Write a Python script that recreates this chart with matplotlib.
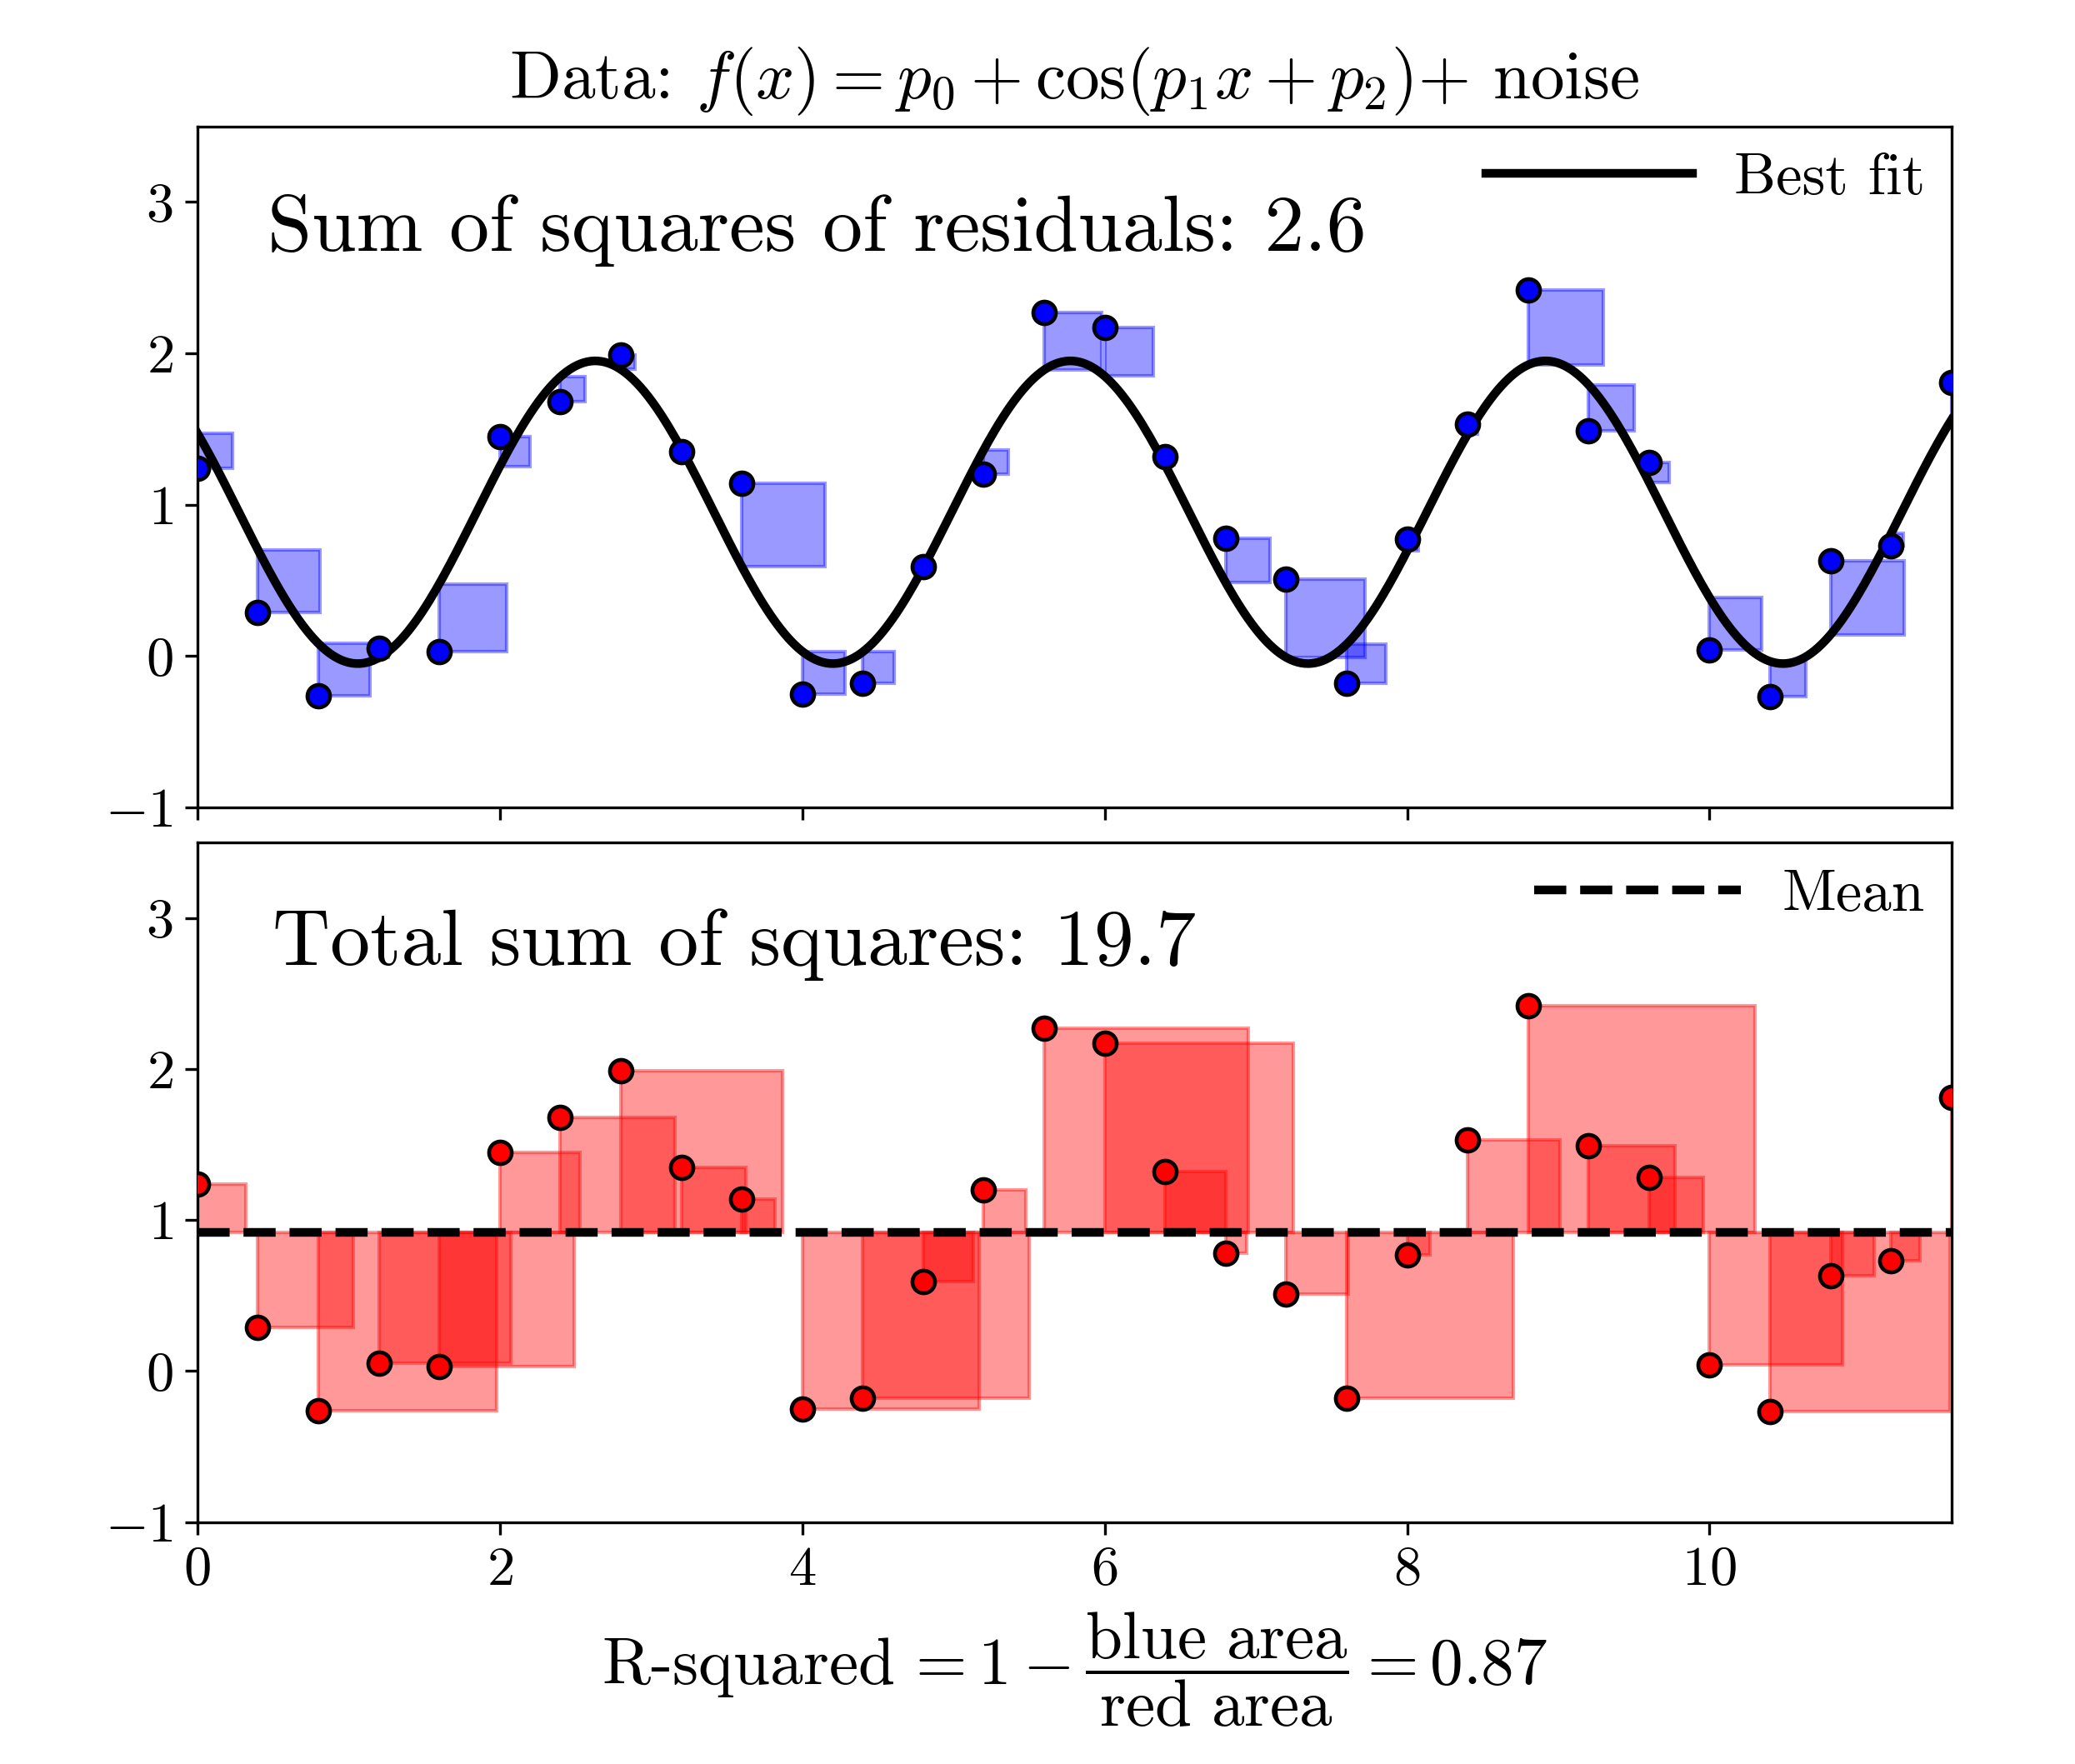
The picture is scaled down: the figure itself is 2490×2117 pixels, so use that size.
import numpy as np
import matplotlib
matplotlib.use('Agg')
import matplotlib.pyplot as plt
from matplotlib.patches import Rectangle

plt.rcParams['font.family'] = 'serif'
plt.rcParams['font.serif'] = ['cmr10']
plt.rcParams['mathtext.fontset'] = 'cm'
plt.rcParams['axes.formatter.use_mathtext'] = True

# data
x_data = [0.0, 0.4, 0.8, 1.2, 1.6, 2.0, 2.4, 2.8, 3.2, 3.6,
          4.0, 4.4, 4.8, 5.2, 5.6, 6.0, 6.4, 6.8, 7.2, 7.6,
          8.0, 8.4, 8.8, 9.2, 9.6, 10.0, 10.4, 10.8, 11.2, 11.6]
y_data = [1.24, 0.29, -0.26, 0.05, 0.03, 1.45, 1.68, 1.99, 1.35, 1.14,
          -0.25, -0.18, 0.59, 1.20, 2.27, 2.17, 1.32, 0.78, 0.51, -0.18,
          0.77, 1.53, 2.42, 1.49, 1.28, 0.04, -0.27, 0.63, 0.73, 1.81]
fit_params = [0.95, 2.0, 1.02]
ssr_label = "Sum of squares of residuals: 2.6"
sst_label = "Total sum of squares: 19.7"
r2_label = r"R-squared$\,= 1 - \dfrac{\mathrm{blue\ area}}{\mathrm{red\ area}} = 0.87$"


def model(x, p):
    return p[0] + np.cos(p[1] * x + p[2])


x = np.array(x_data)
y = np.array(y_data)
y_fit = model(x, fit_params)
y_mean = y.mean()

fig = plt.figure(figsize=(8.3, 7.0567), dpi=300)
ax1 = fig.add_axes([0.0951, 0.5423, 0.8454, 0.3861])
ax2 = fig.add_axes([0.0951, 0.1371, 0.8454, 0.3854], sharex=ax1)

# top: residual squares
for xi, yi, fi in zip(x, y, y_fit):
    side = abs(yi - fi)
    ax1.add_patch(Rectangle((xi, min(yi, fi)), side, side, facecolor='blue',
                            edgecolor='blue', alpha=0.4, lw=1.0, zorder=1))
xx = np.linspace(0, 11.6, 500)
ax1.plot(xx, model(xx, fit_params), color='black', lw=2.5, label='Best fit', zorder=2)
ax1.plot(x, y, 'o', color='blue', mec='black', mew=1.1, ms=6.5, zorder=3)
ax1.text(0.04, 0.817, ssr_label, transform=ax1.transAxes, fontsize=23, va='baseline')
ax1.legend(loc='upper right', frameon=False, fontsize=17, handlelength=3.5,
           handletextpad=0.7, borderaxespad=0.05)
ax1.set_title(r"Data: $f(x) = p_0 + \cos(p_1 x + p_2)$+ noise", fontsize=19.5, pad=8)
ax1.tick_params(labelbottom=False)

# bottom: total squares
for xi, yi in zip(x, y):
    side = abs(yi - y_mean)
    ax2.add_patch(Rectangle((xi, min(yi, y_mean)), side, side, facecolor='red',
                            edgecolor='red', alpha=0.4, lw=1.0, zorder=1))
ax2.axhline(y_mean, color='black', ls='--', lw=2.5, label='Mean', zorder=2)
ax2.plot(x, y, 'o', color='red', mec='black', mew=1.1, ms=6.5, zorder=3)
ax2.text(0.043, 0.82, sst_label, transform=ax2.transAxes, fontsize=23, va='baseline')
ax2.legend(loc='upper right', frameon=False, fontsize=17, handlelength=3.5,
           handletextpad=0.7, borderaxespad=0.05)
ax2.set_xlabel(r2_label, fontsize=19, labelpad=4)

for ax in (ax1, ax2):
    ax.set_xlim(0, 11.6)
    ax.set_ylim(-1, 3.5)
    ax.set_yticks([-1, 0, 1, 2, 3])
    ax.set_xticks([0, 2, 4, 6, 8, 10])
    ax.tick_params(labelsize=16, length=3.5)

fig.savefig('out.png', dpi=300)
